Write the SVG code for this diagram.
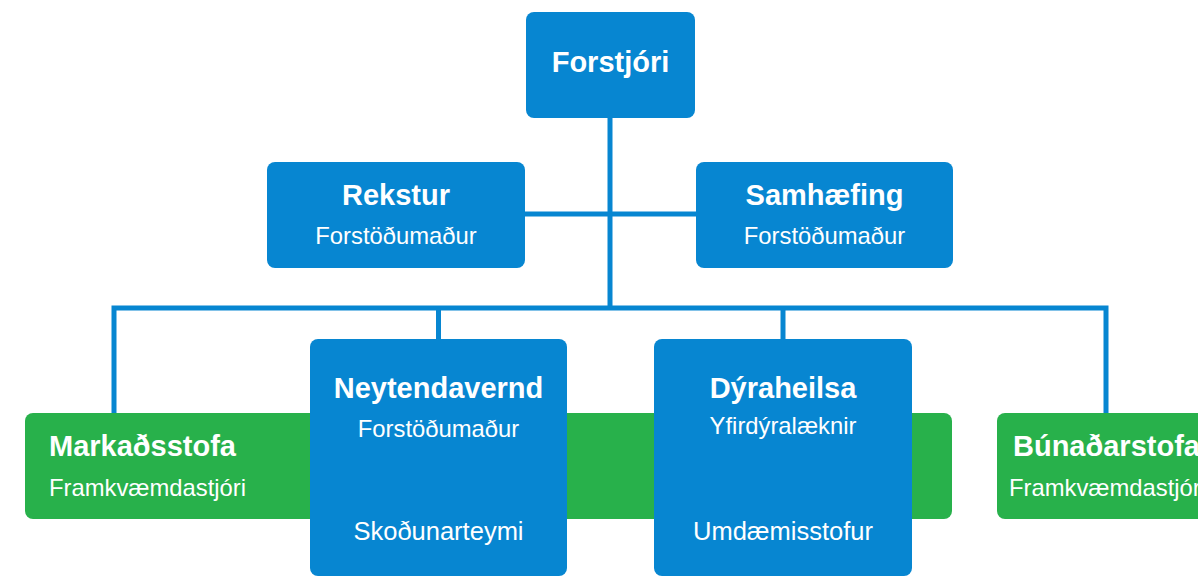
<svg xmlns="http://www.w3.org/2000/svg" width="1198" height="577" viewBox="0 0 1198 577">
<style>
.blue{fill:#0786d1}
.green{fill:#28b14b}
.ln{stroke:#0786d1;stroke-width:5;fill:none}
.t{font-family:"Liberation Sans",Arial,sans-serif;fill:#ffffff;font-weight:bold;font-size:29px}
.s{font-family:"Liberation Sans",Arial,sans-serif;fill:#ffffff;font-size:23.8px}
.b{font-size:25.5px}
.c{text-anchor:middle}
</style>
<rect width="1198" height="577" fill="#ffffff"/>
<g id="connectors">
<path class="ln" d="M610,118 V308"/>
<path class="ln" d="M525,214 H696"/>
<path class="ln" d="M114,413 V308 H1106 V413"/>
<path class="ln" d="M438.5,308 V339"/>
<path class="ln" d="M783,308 V339"/>
</g>
<g id="markadsstofa">
<rect class="green" x="25" y="413" width="927" height="106" rx="8"/>
<text class="t" x="49" y="456">Markaðsstofa</text>
<text class="s" x="49" y="496">Framkvæmdastjóri</text>
</g>
<g id="bunadarstofa">
<rect class="green" x="997" y="413" width="220" height="106" rx="8"/>
<text class="t" x="1013" y="456">Búnaðarstofa</text>
<text class="s" x="1009" y="496">Framkvæmdastjóri</text>
</g>
<g id="forstjori">
<rect class="blue" x="526" y="12" width="169" height="106" rx="8"/>
<text class="t c" x="610.5" y="72">Forstjóri</text>
</g>
<g id="rekstur">
<rect class="blue" x="267" y="162" width="258" height="106" rx="8"/>
<text class="t c" x="396" y="205">Rekstur</text>
<text class="s c" x="396" y="244">Forstöðumaður</text>
</g>
<g id="samhaefing">
<rect class="blue" x="696" y="162" width="257" height="106" rx="8"/>
<text class="t c" x="824.5" y="205">Samhæfing</text>
<text class="s c" x="824.5" y="244">Forstöðumaður</text>
</g>
<g id="neytendavernd">
<rect class="blue" x="310" y="339" width="257" height="237" rx="8"/>
<text class="t c" x="438.5" y="398">Neytendavernd</text>
<text class="s c" x="438.5" y="437">Forstöðumaður</text>
<text class="s b c" x="438.5" y="540">Skoðunarteymi</text>
</g>
<g id="dyraheilsa">
<rect class="blue" x="654" y="339" width="258" height="237" rx="8"/>
<text class="t c" x="783" y="398">Dýraheilsa</text>
<text class="s c" x="783" y="434">Yfirdýralæknir</text>
<text class="s b c" x="783" y="540">Umdæmisstofur</text>
</g>
</svg>
